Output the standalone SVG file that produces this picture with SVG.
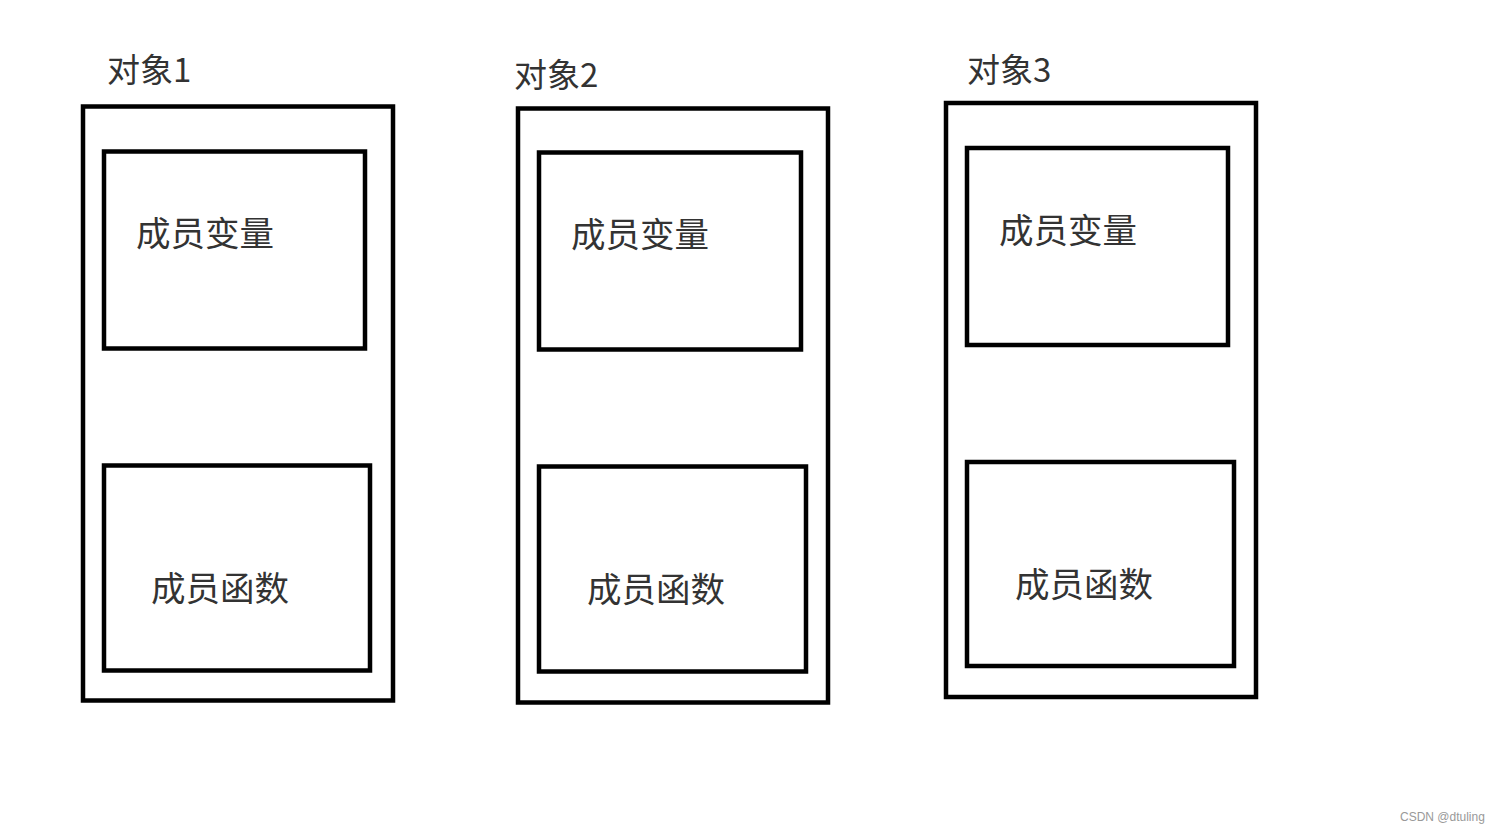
<svg xmlns="http://www.w3.org/2000/svg" width="1501" height="834" viewBox="0 0 1501 834">
<style>
.box{fill:none;stroke:#000;stroke-width:4.5}
.t{font-family:"Microsoft YaHei","Noto Sans CJK SC",sans-serif;fill:#333;font-size:34.5px}
.title{font-family:"Microsoft YaHei","Noto Sans CJK SC",sans-serif;fill:#333;font-size:33px}
.wm{font-family:"Liberation Sans",sans-serif;fill:#999;font-size:12px}
</style>
<rect width="1501" height="834" fill="#fff"/>
<g id="obj1">
<text class="title" x="107" y="82">对象1</text>
<rect class="box" x="83" y="106.5" width="310" height="594"/>
<g id="obj1-var"><rect class="box" x="104" y="151.5" width="261" height="197"/><text class="t" x="136" y="246">成员变量</text></g>
<g id="obj1-fn"><rect class="box" x="104" y="465.5" width="266" height="205"/><text class="t" x="151" y="601">成员函数</text></g>
</g>
<g id="obj2">
<text class="title" x="514" y="87">对象2</text>
<rect class="box" x="518" y="108.5" width="310" height="594"/>
<g id="obj2-var"><rect class="box" x="539" y="152.5" width="262" height="197"/><text class="t" x="571" y="247">成员变量</text></g>
<g id="obj2-fn"><rect class="box" x="539" y="466.5" width="267" height="205"/><text class="t" x="587" y="602">成员函数</text></g>
</g>
<g id="obj3">
<text class="title" x="967" y="82">对象3</text>
<rect class="box" x="946" y="103" width="310" height="594"/>
<g id="obj3-var"><rect class="box" x="967" y="148" width="261" height="197"/><text class="t" x="999" y="243">成员变量</text></g>
<g id="obj3-fn"><rect class="box" x="967" y="462" width="267" height="204"/><text class="t" x="1015" y="597">成员函数</text></g>
</g>
<g id="connectors"/>
<text class="wm" x="1400" y="821">CSDN @dtuling</text>
</svg>
